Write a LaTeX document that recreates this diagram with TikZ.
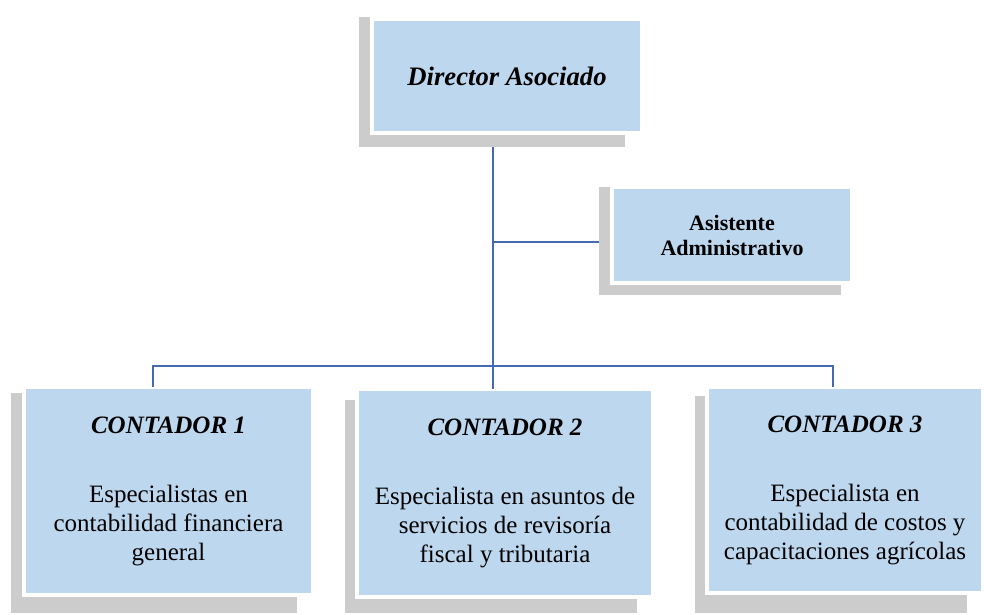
\documentclass[tikz,border=0pt]{standalone}
\usepackage{fontspec}
\setmainfont{Liberation Serif}
\usetikzlibrary{backgrounds}
\definecolor{boxblue}{RGB}{189,215,238}
\definecolor{shadowgray}{RGB}{204,204,204}
\definecolor{linkblue}{RGB}{70,106,178}
\tikzset{
  unit/.style={draw=white,line width=3pt,fill=boxblue,outer sep=0pt,inner sep=2pt,align=center},
  boxshadow/.style={fill=shadowgray},
  link/.style={draw=linkblue,line width=1.5pt},
  bodytext/.style={font=\fontsize{18.75}{21.75}\selectfont}
}

\begin{document}
\begin{tikzpicture}[x=0.75pt,y=-0.75pt]
\useasboundingbox (0,0) rectangle (984,614);
\node[unit,minimum width=202.5pt,minimum height=85.5pt,font=\fontsize{20}{24}\selectfont\bfseries\itshape] (dir) at (507,76) {Director Asociado};
\node[unit,minimum width=180pt,minimum height=72pt,font=\fontsize{16.5}{18.75}\selectfont\bfseries] (asist) at (732,235) {Asistente\\Administrativo};
\node[unit,bodytext,minimum width=216.75pt,minimum height=156pt] (c1) at (168.5,491)
  {{\bfseries\itshape CONTADOR 1}\\[30pt]Especialistas en\\contabilidad financiera\\general};
\node[unit,bodytext,minimum width=222pt,minimum height=156pt] (c2) at (505,493)
  {{\bfseries\itshape CONTADOR 2}\\[30pt]Especialista en asuntos de\\servicios de revisoría\\fiscal y tributaria};
\node[unit,bodytext,minimum width=207pt,minimum height=154.5pt] (c3) at (845,490)
  {{\bfseries\itshape CONTADOR 3}\\[30pt]Especialista en\\contabilidad de costos y\\capacitaciones agrícolas};
% shadows behind the boxes
\begin{scope}[on background layer]
\foreach \n/\a/\b/\c/\d in {dir/-13/-2/-17/14, asist/-13/0/-11/12, c1/-13/6/-16/18, c2/-12/11/-16/16, c3/-12/9/-16/20}
  \fill[boxshadow] ([shift={(\a,\b)}]\n.north west) rectangle ([shift={(\c,\d)}]\n.south east);
\end{scope}
% connectors
\coordinate (trunk) at (493,147);
\coordinate (bus) at (493,366);
\coordinate (branch) at (493,242);
\coordinate (asistleft) at ([xshift=-9.75pt]asist.west);
\coordinate (c1top) at ([xshift=-11.6pt]c1.north);
\coordinate (c3top) at ([xshift=-9pt]c3.north);
\draw[link] (trunk) -- (trunk |- c2.north);
\draw[link] (c1top) -- (c1top |- bus) -- (c3top |- bus) -- (c3top);
\draw[link] (branch) -- (asistleft |- branch);
\end{tikzpicture}
\end{document}
